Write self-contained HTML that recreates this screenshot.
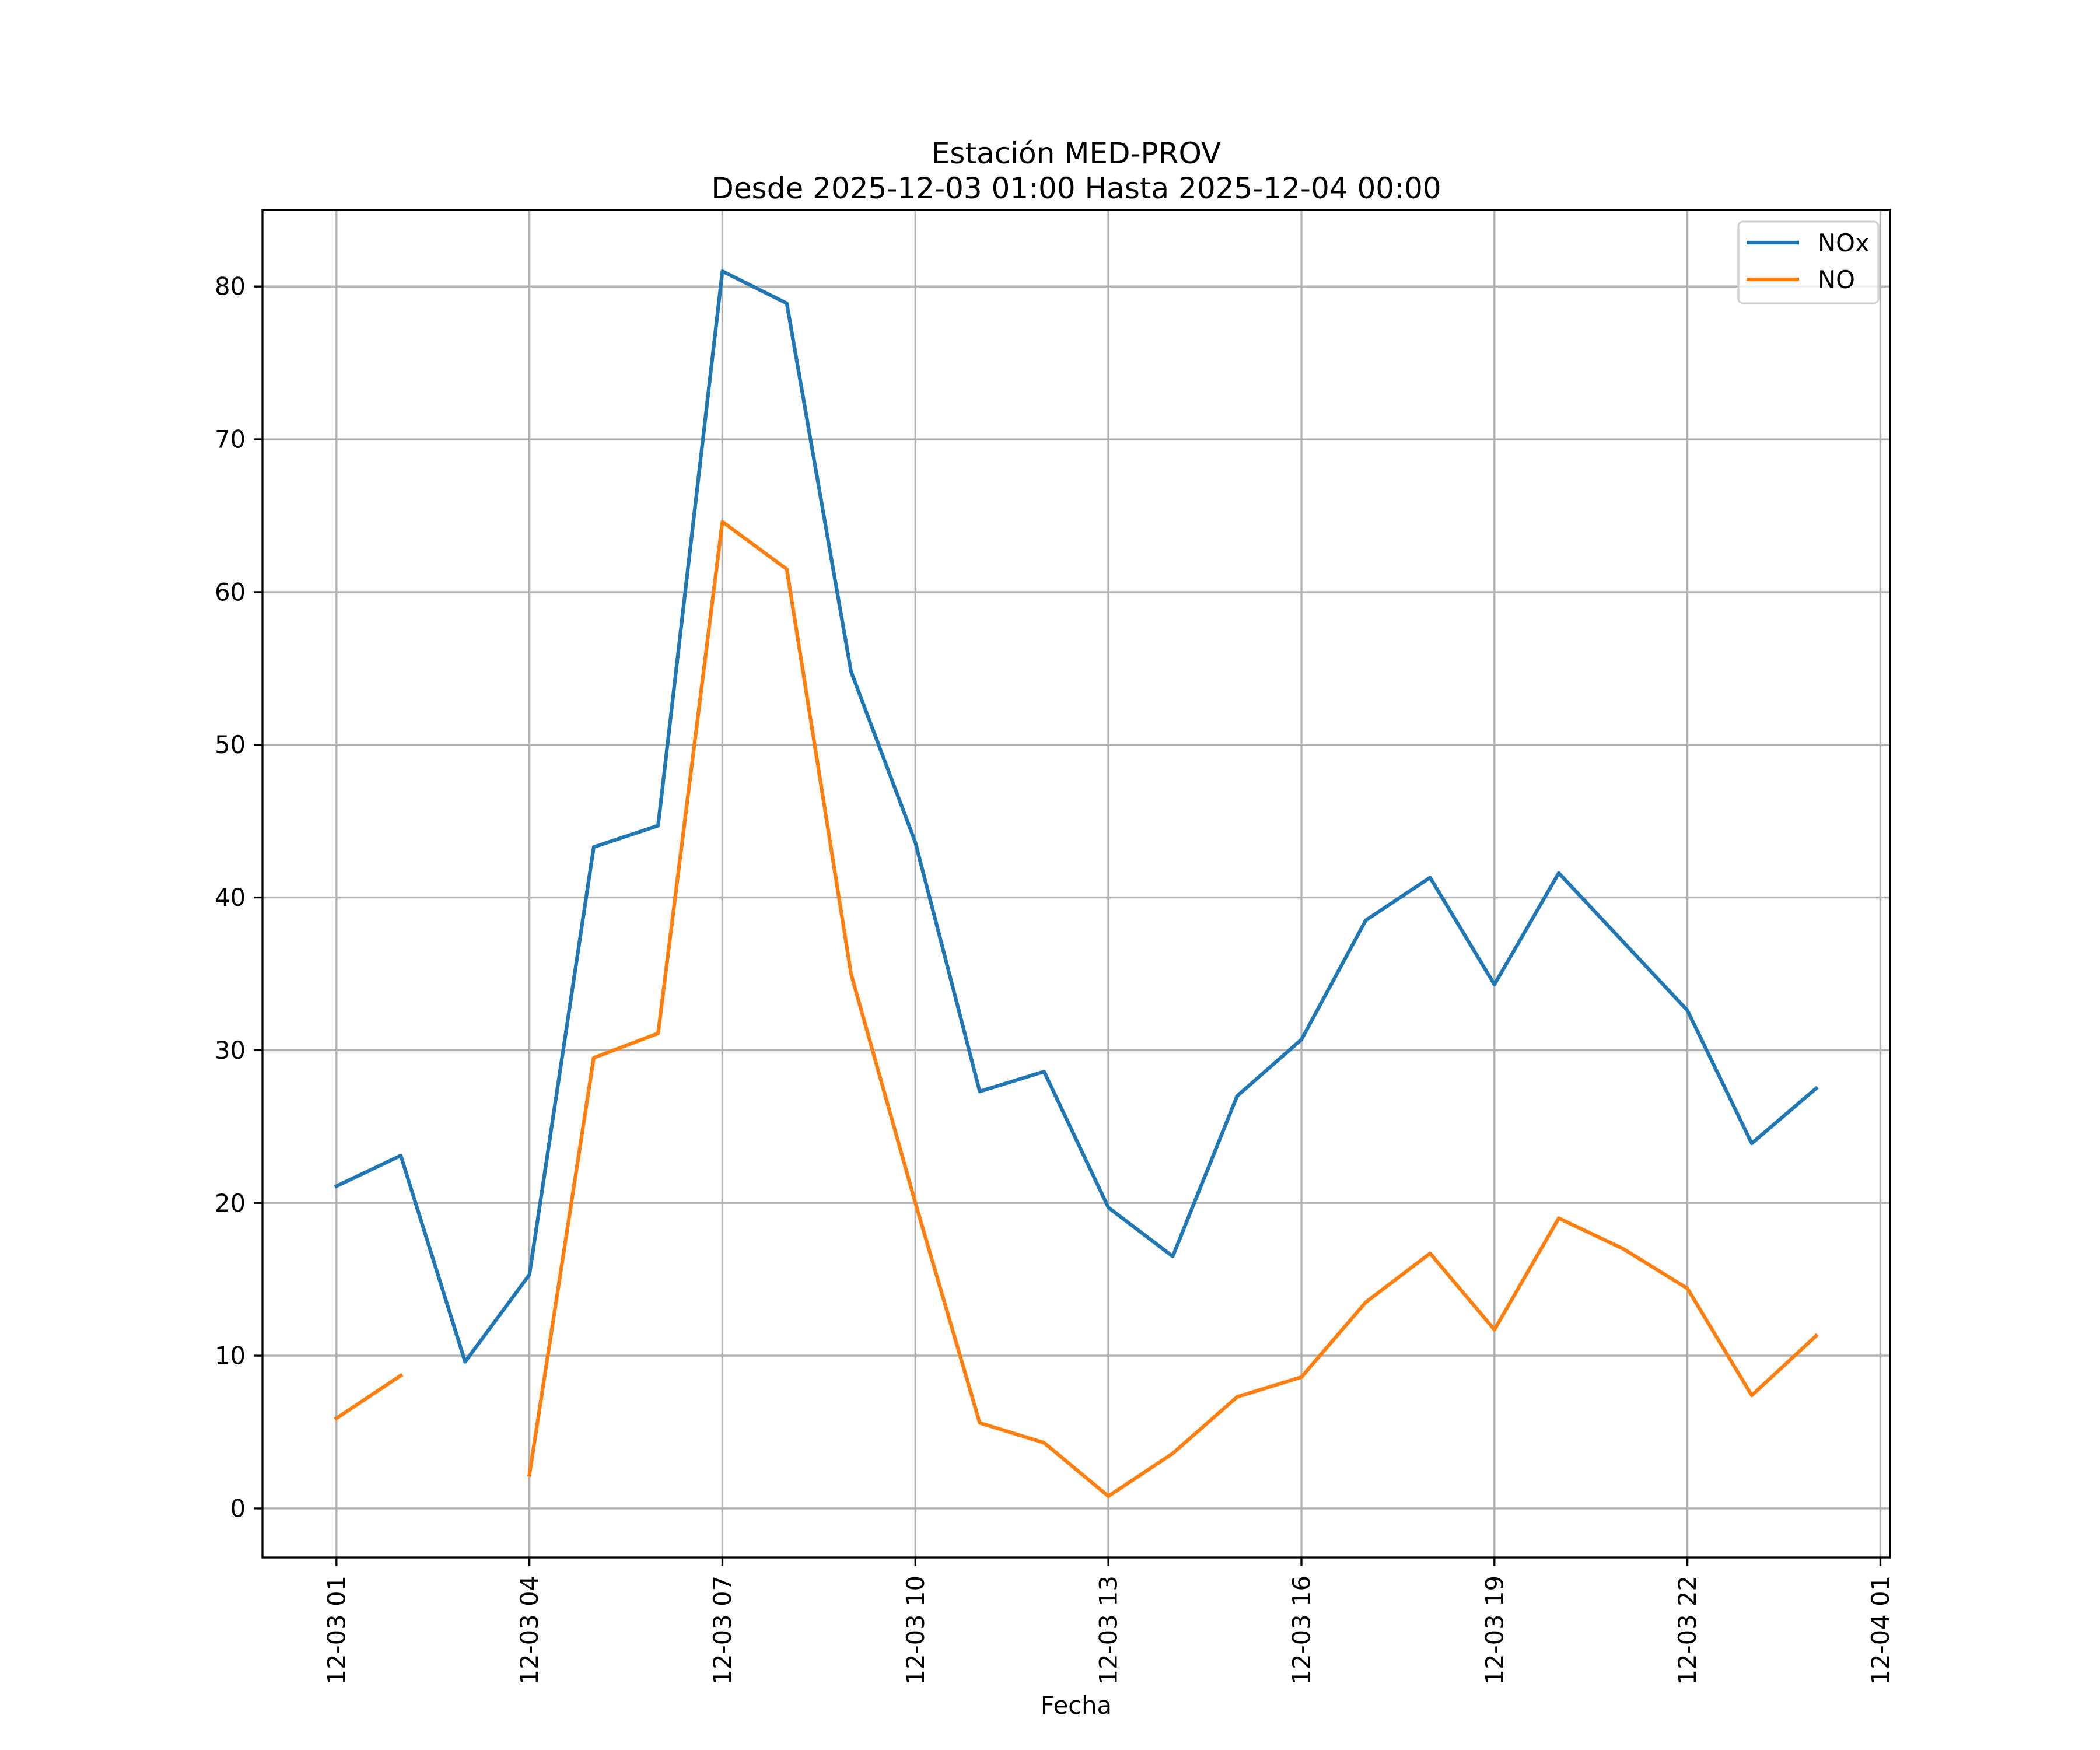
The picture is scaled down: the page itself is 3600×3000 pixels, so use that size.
<!DOCTYPE html>
<html><head><meta charset="utf-8"><style>html,body{margin:0;padding:0;background:#fff}svg{display:block}text{font-family:"DejaVu Sans","Liberation Sans",sans-serif;fill:#000}</style></head>
<body>
<svg id="chart" width="3600" height="3000" viewBox="0 0 3600 3000" xmlns="http://www.w3.org/2000/svg">
<rect width="3600" height="3000" fill="#fff"/>
<text x="1845" y="280" font-size="50" text-anchor="middle">Estación MED-PROV</text>
<text x="1845" y="340" font-size="50" text-anchor="middle">Desde 2025-12-03 01:00 Hasta 2025-12-04 00:00</text>
<g id="grid"></g>
<g id="series"></g>
<rect x="450" y="360" width="2790" height="2310" fill="none" stroke="#000" stroke-width="3.33"/>
<g id="axes"></g>
<text x="1845" y="2938" font-size="41.7" text-anchor="middle">Fecha</text>
<g>
<rect x="2980" y="380" width="240" height="140" rx="8" fill="#fff" fill-opacity="0.8" stroke="#d0d0d0" stroke-width="3.33"/>
<line x1="2994" y1="416" x2="3084" y2="416" stroke="#1f77b4" stroke-width="6.25"/>
<text x="3116" y="431" font-size="41.7">NOx</text>
<line x1="2994" y1="479" x2="3084" y2="479" stroke="#ff7f0e" stroke-width="6.25"/>
<text x="3116" y="494" font-size="41.7">NO</text>
</g>
</svg>
<script>
const hours = [1,2,3,4,5,6,7,8,9,10,11,12,13,14,15,16,17,18,19,20,21,22,23,24];
const noxValues = [21.1,23.1,9.6,15.3,43.3,44.7,81.0,78.9,54.8,43.6,27.3,28.6,19.7,16.5,27.0,30.7,38.5,41.3,34.3,41.6,37.1,32.6,23.9,27.5];
const noValues = [5.9,8.7,null,2.2,29.5,31.1,64.6,61.5,35.0,20.0,5.6,4.3,0.8,3.6,7.3,8.6,13.5,16.7,11.7,19.0,17.0,14.4,7.4,11.3];
const xTickHours = [1,4,7,10,13,16,19,22,25];
const xTickLabels = ["12-03 01","12-03 04","12-03 07","12-03 10","12-03 13","12-03 16","12-03 19","12-03 22","12-04 01"];
const yTicks = [0,10,20,30,40,50,60,70,80];

const NS="http://www.w3.org/2000/svg";
const L=450,R=3240,T=360,B=2670;
const xMin=-0.15,xMax=25.15,yMin=-3.21,yMax=85.01;
const xs=h=>L+(h-xMin)/(xMax-xMin)*(R-L);
const ys=v=>B-(v-yMin)/(yMax-yMin)*(B-T);
function mk(tag,attrs,parent){const e=document.createElementNS(NS,tag);for(const k in attrs)e.setAttribute(k,attrs[k]);parent.appendChild(e);return e;}
const grid=document.getElementById('grid'),axes=document.getElementById('axes'),series=document.getElementById('series');
xTickHours.forEach((h,i)=>{
  const x=xs(h);
  const g=mk('line',{x1:x,y1:T,x2:x,y2:B,stroke:'#b0b0b0','stroke-width':3.33},grid);
  
  
  const t=mk('line',{x1:x,y1:B,x2:x,y2:B+14.6,stroke:'#000','stroke-width':3.33},axes);
  
  
  const lb=mk('text',{x:0,y:0,'font-size':41.7,'text-anchor':'end','dominant-baseline':'central',transform:`translate(${x},${B+31}) rotate(-90)`},axes);
  lb.textContent=xTickLabels[i];
  
  
});
yTicks.forEach(v=>{
  const y=ys(v);
  const g=mk('line',{x1:L,y1:y,x2:R,y2:y,stroke:'#b0b0b0','stroke-width':3.33},grid);
  
  
  const t=mk('line',{x1:L-14.6,y1:y,x2:L,y2:y,stroke:'#000','stroke-width':3.33},axes);
  
  
  const lb=mk('text',{x:L-29,y:y,'font-size':41.7,'text-anchor':'end','dominant-baseline':'central'},axes);
  lb.textContent=String(v);
  
  
});
function pathFor(vals){let d='',pen=false;vals.forEach((v,i)=>{if(v===null){pen=false;return;}d+=(pen?'L':'M')+xs(hours[i]).toFixed(1)+' '+ys(v).toFixed(1)+' ';pen=true;});return d;}
const p1=mk('path',{d:pathFor(noxValues),fill:'none',stroke:'#1f77b4','stroke-width':6.25,'stroke-linejoin':'round','stroke-linecap':'square'},series);


const p2=mk('path',{d:pathFor(noValues),fill:'none',stroke:'#ff7f0e','stroke-width':6.25,'stroke-linejoin':'round','stroke-linecap':'square'},series);


</script>
</body></html>
